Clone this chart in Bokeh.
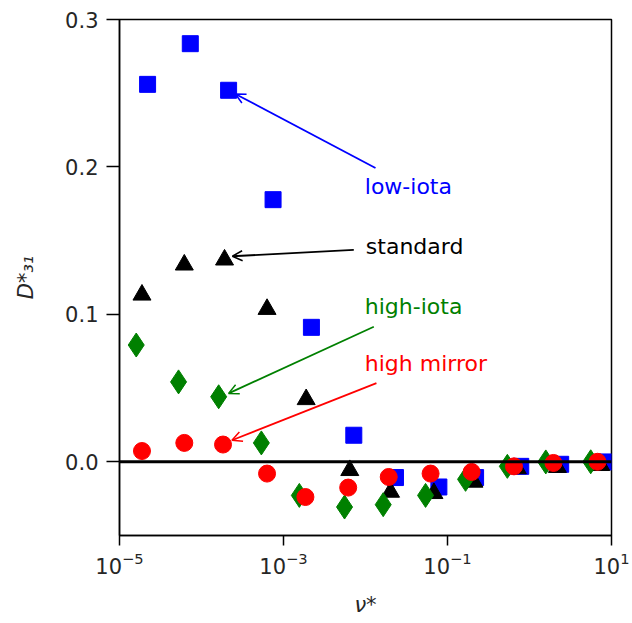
from bokeh.plotting import figure
from bokeh.models import FixedTicker, Span, Arrow, OpenHead, LogTickFormatter, ColumnDataSource
from bokeh.core.properties import value
from bokeh.embed import file_html
from bokeh.resources import INLINE

# ---- data ----
nu_low = [2.2e-5, 7.3e-5, 2.14e-4, 7.46e-4, 2.19e-3, 7.2e-3, 0.0232, 0.0785, 0.220, 0.782, 2.40, 8.5]
D_low = [0.256, 0.2836, 0.252, 0.1778, 0.0912, 0.018, -0.0107, -0.0171, -0.0107, -0.0031, -0.0017, -0.0001]

nu_std = [1.88e-5, 6.17e-5, 1.91e-4, 6.3e-4, 1.89e-3, 6.43e-3, 0.0202, 0.0683, 0.21, 0.711, 2.19, 7.4]
D_std = [0.1132, 0.1336, 0.137, 0.1035, 0.0423, -0.0058, -0.0205, -0.0214, -0.0137, -0.0046, -0.0037, -0.0024]

nu_hi = [1.6e-5, 5.25e-5, 1.62e-4, 5.37e-4, 1.56e-3, 5.55e-3, 0.01644, 0.054, 0.166, 0.537, 1.58, 5.58]
D_hi = [0.0792, 0.0542, 0.0441, 0.0128, -0.0228, -0.0307, -0.0291, -0.0228, -0.0119, -0.0031, -0.0001, 0.0]

nu_mir = [1.88e-5, 6.17e-5, 1.83e-4, 6.3e-4, 1.85e-3, 6.15e-3, 0.0192, 0.0622, 0.197, 0.647, 1.96, 6.75]
D_mir = [0.0073, 0.0128, 0.0117, -0.008, -0.0239, -0.0175, -0.0103, -0.008, -0.0069, -0.0031, -0.0008, 0.0]

ann_labels = ["low-iota", "standard", "high-iota", "high mirror"]
ann_colors = ["#0000ff", "#000000", "#008000", "#ff0000"]
ann_text_x = [0.0098, 0.0101, 0.0098, 0.0098]
ann_text_y = [0.1866, 0.1458, 0.1050, 0.0664]
arrow_x0 = [0.01324, 7.2e-3, 0.01262, 0.0136]
arrow_y0 = [0.1993, 0.1438, 0.0916, 0.0534]
arrow_x1 = [2.59e-4, 2.38e-4, 2.14e-4, 2.35e-4]
arrow_y1 = [0.2495, 0.1394, 0.0464, 0.0146]

x_ticks = [1e-5, 1e-3, 1e-1, 1e1]
y_ticks = [0.0, 0.1, 0.2, 0.3]
y_tick_labels = ["0.0", "0.1", "0.2", "0.3"]

FONT = "DejaVu Sans"

p = figure(width=632, height=623, x_axis_type="log",
           x_range=(1e-5, 10), y_range=(-0.05, 0.3),
           output_backend="svg", toolbar_location=None,
           min_border_left=119, min_border_right=21,
           min_border_top=19, min_border_bottom=88)

p.grid.visible = False
p.outline_line_color = "black"
p.outline_line_width = 1.5
p.background_fill_color = "white"
p.border_fill_color = "white"

# axes
p.xaxis.ticker = FixedTicker(ticks=x_ticks, minor_ticks=[])
p.xaxis.formatter = LogTickFormatter()
p.yaxis.ticker = FixedTicker(ticks=y_ticks, minor_ticks=[])
p.yaxis.major_label_overrides = {t: l for t, l in zip(y_ticks, y_tick_labels)}

for ax in (p.xaxis, p.yaxis):
    ax.axis_line_color = "black"
    ax.axis_line_width = 1.5
    ax.major_tick_line_color = "black"
    ax.major_tick_line_width = 1.5
    ax.major_tick_in = 0
    ax.minor_tick_line_color = None
    ax.major_label_text_font = FONT
    ax.major_label_text_font_size = "21px"
    ax.major_label_text_color = "#262626"
    ax.axis_label_text_font = FONT
    ax.axis_label_text_font_size = "21px"
    ax.axis_label_text_font_style = "italic"
    ax.axis_label_text_color = "#262626"

p.xaxis.major_tick_out = 10
p.yaxis.major_tick_out = 13
p.xaxis.major_label_standoff = 6
p.yaxis.major_label_standoff = 8
p.xaxis.axis_label = "ν*"
p.yaxis.axis_label = "D*₃₁"
p.xaxis.axis_label_standoff = 16
p.yaxis.axis_label_standoff = 24

# series
p.scatter(nu_low, D_low, marker="square", size=16, color="#0000ff")
p.scatter(nu_std, D_std, marker="triangle", size=18, color="#000000")
p.scatter(nu_hi, D_hi, marker="diamond", size=24, color="#008000")
p.scatter(nu_mir, D_mir, marker="circle", size=17, color="#ff0000")

p.add_layout(Span(location=0, dimension="width", line_color="black", line_width=3))

# annotations
for i in range(len(ann_labels)):
    p.add_layout(Arrow(end=OpenHead(size=10, line_color=ann_colors[i], line_width=1.5),
                       x_start=arrow_x0[i], y_start=arrow_y0[i],
                       x_end=arrow_x1[i], y_end=arrow_y1[i],
                       line_color=ann_colors[i], line_width=1.8))

src = ColumnDataSource(dict(x=ann_text_x, y=ann_text_y, t=ann_labels, c=ann_colors))
p.text(x="x", y="y", text="t", text_color="c", source=src,
       text_font=value(FONT), text_font_size="22px",
       text_align="left", text_baseline="alphabetic")

open("out.html", "w").write(file_html(p, INLINE))
